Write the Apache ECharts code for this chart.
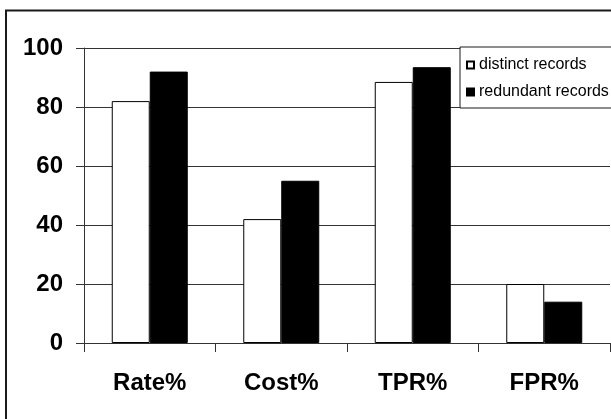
<!DOCTYPE html>
<html>
<head>
<meta charset="utf-8">
<script src="https://cdn.jsdelivr.net/npm/echarts@6/dist/echarts.min.js"></script>
<style>
  html, body { margin: 0; padding: 0; background: #fff; }
  #chart { width: 611px; height: 419px; }
</style>
</head>
<body>
<div id="chart"></div>
<script>
// Metric categories along the x axis
const categories = ['Rate%', 'Cost%', 'TPR%', 'FPR%'];
// Results with distinct records
const distinctValues = [82, 42, 88.5, 20];
// Results with redundant records
const redundantValues = [92, 55, 93.5, 14];
// Value axis ticks
const yTicks = [0, 20, 40, 60, 80, 100];

const FONT = "'Liberation Sans', Arial, sans-serif";
const LINE = '#333';

const chart = echarts.init(document.getElementById('chart'), null, { renderer: 'canvas' });

chart.setOption({
  animation: false,
  backgroundColor: '#fff',
  grid: { left: 84, right: 1, top: 48, bottom: 76, containLabel: false },
  graphic: [{
    type: 'rect',
    shape: { x: 6, y: 10.5, width: 700, height: 500 },
    style: { fill: 'none', stroke: '#1a1a1a', lineWidth: 2 },
    z: -10
  }],
  legend: {
    orient: 'vertical',
    left: 460,
    top: 47,
    padding: [10, 8, 8, 6],
    itemGap: 11,
    itemWidth: 7,
    itemHeight: 7,
    icon: 'rect',
    backgroundColor: '#fff',
    borderColor: '#1a1a1a',
    borderWidth: 1,
    borderRadius: 0,
    textStyle: { fontFamily: FONT, fontSize: 16, color: '#000', lineHeight: 16 },
    data: ['distinct records', 'redundant records']
  },
  xAxis: {
    type: 'category',
    data: categories,
    axisLine: { lineStyle: { color: LINE, width: 1 } },
    axisTick: { show: true, length: 9, lineStyle: { color: LINE } },
    axisLabel: {
      margin: 28,
      fontFamily: FONT,
      fontSize: 24,
      fontWeight: 'bold',
      color: '#000'
    }
  },
  yAxis: {
    type: 'value',
    min: yTicks[0],
    max: yTicks[yTicks.length - 1],
    interval: yTicks[1] - yTicks[0],
    axisLine: { show: true, lineStyle: { color: LINE, width: 1 } },
    axisTick: { show: true, length: 8, lineStyle: { color: LINE } },
    splitLine: { show: true, lineStyle: { color: LINE, width: 1 } },
    axisLabel: {
      margin: 21,
      fontFamily: FONT,
      fontSize: 24,
      fontWeight: 'bold',
      color: '#000'
    }
  },
  series: [
    {
      name: 'distinct records',
      type: 'bar',
      data: distinctValues,
      barWidth: 38,
      barGap: '0%',
      itemStyle: { color: '#fff', borderColor: '#000', borderWidth: 1 }
    },
    {
      name: 'redundant records',
      type: 'bar',
      data: redundantValues,
      barWidth: 38,
      barGap: '0%',
      itemStyle: { color: '#000', borderColor: '#000', borderWidth: 1 }
    }
  ]
});
</script>
</body>
</html>
